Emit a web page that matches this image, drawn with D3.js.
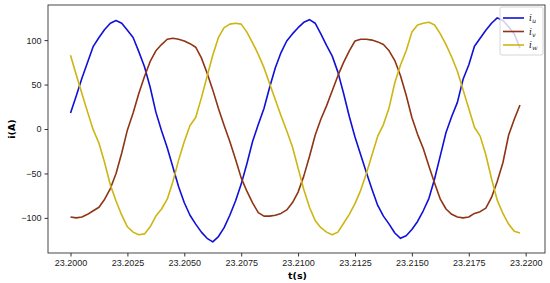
<!DOCTYPE html>
<html>
<head>
<meta charset="utf-8">
<script src="https://cdn.jsdelivr.net/npm/d3@7"></script>
<style>
  body { margin: 0; background: #fff; }
  svg { display: block; font-family: "DejaVu Sans", sans-serif; }
  .axis text { font-size: 9px; fill: #222; }
  .axis path, .axis line { stroke: #333; }
</style>
</head>
<body>
<div id="chart"></div>
<script>
const tStart = 23.2;
const tStep = 0.00025;

const iu = [18, 37, 57, 75, 93, 103, 112, 119, 122, 119, 111, 103, 87, 70, 47, 19, -2, -21, -43, -65,
  -83, -97, -107, -116, -123, -127, -121, -111, -97, -81, -62, -39, -14, 5, 23, 47, 69, 86, 99, 107,
  114, 120, 123, 119, 107, 94, 82, 64, 40, 14, -9, -29, -49, -68, -86, -98, -107, -117, -123, -120,
  -113, -104, -92, -78, -56, -30, -4, 14, 30, 56, 72, 93, 102, 111, 119, 125, 122, 115, 107, 91];

const iv = [-99, -100, -99, -96, -92, -88, -79, -67, -50, -27, -1, 18, 40, 59, 76, 88, 95, 101, 102, 101,
  99, 96, 92, 80, 63, 44, 23, 4, -14, -34, -55, -70, -83, -94, -98, -98, -97, -95, -91, -83,
  -71, -53, -31, -7, 11, 26, 43, 60, 75, 88, 99, 101, 101, 100, 98, 95, 88, 77, 60, 38,
  13, -6, -22, -42, -61, -79, -90, -96, -99, -100, -99, -95, -93, -89, -77, -59, -38, -7, 11, 27];

const iw = [83, 61, 40, 19, -1, -16, -38, -63, -81, -97, -110, -116, -119, -118, -110, -98, -90, -79, -59, -35,
  -14, 4, 13, 35, 59, 83, 103, 114, 118, 119, 118, 109, 97, 84, 69, 51, 33, 15, -2, -20,
  -44, -68, -88, -103, -111, -116, -119, -116, -106, -96, -84, -69, -50, -29, -8, 5, 24, 52, 72, 88,
  109, 117, 119, 120, 117, 107, 95, 81, 65, 44, 23, 2, -8, -29, -56, -80, -95, -107, -115, -117];

const xTicks = [23.2000, 23.2025, 23.2050, 23.2075, 23.2100, 23.2125, 23.2150, 23.2175, 23.2200];
const yTicks = [-100, -50, 0, 50, 100];

const series = [
  { key: 'u', values: iu, color: '#1010d8' },
  { key: 'v', values: iv, color: '#8f3414' },
  { key: 'w', values: iw, color: '#cdb512' }
];

const width = 550, height = 283;
const margin = { top: 5, right: 5, bottom: 30, left: 48 };
const innerW = width - margin.left - margin.right;
const innerH = height - margin.top - margin.bottom;

const svg = d3.select('#chart').append('svg')
  .attr('width', width)
  .attr('height', height);

const g = svg.append('g')
  .attr('transform', `translate(${margin.left},${margin.top})`);

const x = d3.scaleLinear().domain([23.19901, 23.22085]).range([0, innerW]);
const y = d3.scaleLinear().domain([-139.5, 139.5]).range([innerH, 0]);

const time = iu.map((_, i) => tStart + i * tStep);

const line = d3.line()
  .x((d, i) => x(time[i]))
  .y(d => y(d));

series.forEach(s => {
  g.append('path')
    .datum(s.values)
    .attr('fill', 'none')
    .attr('stroke', s.color)
    .attr('stroke-width', 1.6)
    .attr('stroke-linejoin', 'round')
    .attr('d', line);
});

const fmtMinus = v => d3.format('.0f')(v).replace('-', '\u2212');

const xAxisG = g.append('g').attr('class', 'axis')
  .attr('transform', `translate(0,${innerH})`)
  .call(d3.axisBottom(x).tickValues(xTicks).tickFormat(d3.format('.4f')).tickSize(3.5).tickPadding(3));

const yAxisG = g.append('g').attr('class', 'axis')
  .call(d3.axisLeft(y).tickValues(yTicks).tickFormat(fmtMinus).tickSize(3.5).tickPadding(3));

xAxisG.select('.domain').remove();
yAxisG.select('.domain').remove();

// frame
g.append('rect')
  .attr('width', innerW).attr('height', innerH)
  .attr('fill', 'none').attr('stroke', '#333').attr('stroke-width', 0.9);

// axis labels
svg.append('text')
  .attr('x', margin.left + innerW / 2 + 1)
  .attr('y', 279)
  .attr('text-anchor', 'middle')
  .attr('font-size', 9.5).attr('font-weight', 'bold')
  .text('t(s)');

svg.append('text')
  .attr('transform', `translate(15,${margin.top + innerH / 2}) rotate(-90)`)
  .attr('text-anchor', 'middle')
  .attr('font-size', 9.5).attr('font-weight', 'bold')
  .text('i(A)');

// legend
const legend = g.append('g').attr('transform', `translate(${innerW - 45},2)`);
legend.append('rect')
  .attr('width', 43).attr('height', 48).attr('rx', 2)
  .attr('fill', 'white').attr('fill-opacity', 0.8)
  .attr('stroke', '#ccc').attr('stroke-width', 0.8);

series.forEach((s, i) => {
  const row = legend.append('g').attr('transform', `translate(0,${11 + i * 13.5})`);
  row.append('line')
    .attr('x1', 3).attr('x2', 24)
    .attr('stroke', s.color).attr('stroke-width', 1.6);
  const t = row.append('text')
    .attr('x', 29).attr('y', 3)
    .attr('font-size', 9).attr('font-family', '"DejaVu Serif", serif').attr('font-style', 'italic')
    .attr('fill', '#222');
  t.append('tspan').text('i');
  t.append('tspan').attr('font-size', 6.5).attr('dy', 2).text(s.key);
});
</script>
</body>
</html>
